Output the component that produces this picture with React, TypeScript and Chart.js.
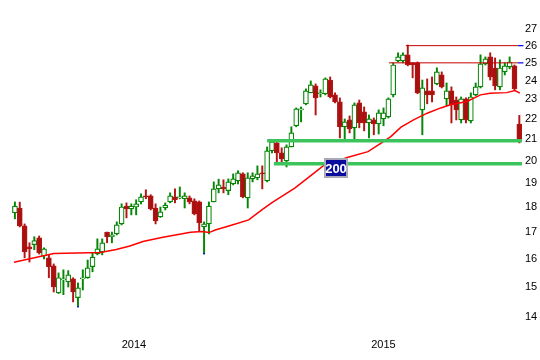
import React, { useEffect, useRef } from "react";
import { Chart, registerables } from "chart.js";

Chart.register(...registerables);

// Weekly candles (index 0 = first week shown)
const opens = [
  17.76, 17.96, 17.24, 16.44, 16.52, 16.78, 16.10, 16.03, 15.74, 14.80,
  15.25, 15.18, 15.28, 14.64, 15.28, 15.32, 15.71, 16.18, 16.25, 17.00,
  16.82, 16.93, 17.32, 18.04, 17.92, 18.00, 18.21, 18.46, 18.46, 17.96,
  17.60, 17.96, 18.21, 18.42, 18.38, 18.34, 18.38, 18.25, 18.21, 17.20,
  17.32, 18.21, 18.76, 18.84, 18.68, 18.97, 19.10, 19.41, 18.38, 19.19,
  19.24, 19.46, 19.10, 20.46, 20.83, 20.36, 19.99, 20.64, 21.66, 22.46,
  22.77, 23.35, 23.72, 23.30, 23.30, 24.04, 23.24, 22.87, 21.61, 21.95,
  21.56, 22.82, 22.36, 21.80, 21.95, 21.75, 22.00, 22.10, 23.24, 25.11,
  25.11, 25.46, 25.00, 25.00, 22.46, 23.45, 23.45, 23.83, 24.32, 23.03,
  23.45, 22.97, 21.95, 23.03, 21.90, 23.24, 23.67, 24.94, 25.34, 24.71,
  23.67, 24.49, 24.77, 24.83, 21.75,
];
const highs = [
  18.21, 18.20, 17.32, 16.59, 16.82, 16.85, 16.40, 16.14, 15.81, 15.49,
  15.60, 15.57, 15.32, 15.14, 15.60, 15.95, 16.21, 16.74, 16.74, 17.00,
  17.00, 17.40, 18.13, 18.17, 18.13, 18.30, 18.55, 18.72, 18.51, 18.13,
  18.00, 18.17, 18.59, 18.76, 18.84, 18.59, 18.46, 18.34, 18.25, 17.40,
  18.21, 19.06, 19.18, 19.15, 19.19, 19.41, 19.55, 19.46, 19.46, 19.46,
  19.77, 19.77, 20.64, 21.00, 20.97, 20.60, 20.74, 21.61, 22.56, 22.61,
  23.56, 23.99, 23.83, 23.51, 24.16, 24.21, 23.35, 23.08, 22.00, 22.15,
  22.82, 22.97, 22.61, 22.20, 22.05, 22.46, 22.56, 23.08, 25.00, 25.58,
  25.58, 26.04, 25.00, 25.05, 24.04, 24.10, 24.21, 24.72, 24.49, 23.88,
  23.67, 23.13, 23.13, 23.08, 23.35, 23.88, 25.46, 25.34, 25.58, 25.28,
  25.17, 25.00, 25.34, 24.88, 22.18,
];
const lows = [
  17.52, 17.20, 16.03, 15.88, 16.33, 16.17, 15.99, 15.32, 14.83, 14.78,
  14.74, 15.00, 14.50, 14.34, 14.90, 15.30, 15.53, 16.14, 16.14, 16.59,
  16.59, 16.89, 17.28, 17.56, 17.68, 17.68, 18.13, 18.34, 17.88, 17.32,
  17.58, 17.88, 18.17, 18.17, 18.34, 17.96, 18.13, 17.68, 17.04, 16.18,
  16.93, 18.21, 18.59, 18.59, 18.51, 18.93, 18.97, 18.38, 17.96, 19.06,
  19.15, 18.76, 19.06, 20.36, 19.95, 19.95, 19.72, 20.64, 21.61, 21.85,
  22.72, 23.35, 22.20, 23.13, 23.24, 23.08, 22.82, 21.07, 20.97, 21.31,
  20.97, 21.56, 21.41, 21.07, 21.22, 21.26, 21.66, 22.05, 23.13, 25.05,
  25.00, 24.83, 24.16, 23.30, 21.22, 22.77, 22.87, 23.78, 23.61, 22.67,
  21.80, 21.95, 21.80, 21.80, 21.80, 23.19, 23.61, 24.88, 24.04, 23.51,
  23.51, 24.32, 24.66, 23.51, 20.83,
];
const closes = [
  18.04, 17.24, 16.25, 16.36, 16.67, 16.21, 16.36, 15.71, 15.00, 15.32,
  15.28, 15.42, 14.83, 14.97, 15.32, 15.67, 16.06, 16.36, 16.59, 16.82,
  16.89, 17.28, 18.00, 17.92, 18.04, 18.13, 18.42, 18.42, 17.92, 17.44,
  17.80, 18.08, 18.46, 18.30, 18.42, 18.46, 18.21, 17.72, 17.36, 17.32,
  18.04, 18.76, 18.93, 18.76, 19.06, 19.19, 19.46, 18.42, 19.24, 19.32,
  19.41, 19.41, 20.46, 20.88, 20.36, 20.08, 20.64, 21.31, 22.51, 22.51,
  23.45, 23.78, 23.08, 23.35, 24.10, 23.13, 22.87, 21.61, 21.85, 21.51,
  22.72, 21.80, 21.80, 22.00, 21.75, 22.31, 22.31, 23.03, 24.88, 25.34,
  25.46, 24.88, 24.88, 23.35, 23.61, 23.24, 23.24, 24.49, 23.67, 23.45,
  22.72, 22.46, 23.03, 21.95, 23.13, 23.67, 24.94, 25.23, 24.21, 23.72,
  24.71, 24.83, 25.05, 23.56, 20.97,
];

// 200-day moving average, read at these week positions
const maWeeks = [-0.2, 8.0, 17.6, 20.9, 23.7, 26.4, 30.5, 33.1, 36.2, 38.7, 40.0, 41.3, 44.8, 48.2, 50.9, 53.0, 57.7, 61.2, 63.8, 68.7, 72.8, 75.5, 77.5, 79.6, 82.2, 85.0, 87.8, 89.8, 93.2, 96.0, 98.0, 101.4, 103.1, 104.1];
const maValues = [15.87, 16.19, 16.23, 16.34, 16.47, 16.64, 16.80, 16.89, 16.99, 17.02, 16.98, 17.08, 17.28, 17.48, 17.88, 18.18, 18.79, 19.37, 19.81, 20.16, 20.42, 20.82, 21.13, 21.59, 21.95, 22.29, 22.56, 22.72, 22.89, 23.24, 23.33, 23.36, 23.47, 23.33];

const yTicks = [14, 15, 16, 17, 18, 19, 20, 21, 22, 23, 24, 25, 26, 27];
const yearTickPos = [24.55, 75.97];
const yearTickLabels = ["2014", "2015"];

const supportLevels = [20.93, 19.86];
const supportStarts = [52.0, 53.4];
const resistLevels = [25.0, 26.0];
const resistStarts = [77.1, 80.6];
const lowMarkWeeks = [13, 39];

const maTag = "200";
const maTagWeek = 66.1;
const maTagPrice = 19.68;

const X_MIN = -2.25;
const X_MAX = 104.55;
const RESIST_END = 103.7;

const UP = "#068606";
const DOWN_FILL = "#a81010";
const DOWN_LINE = "#b41414";

const tagPlugin = {
  id: "maTag",
  afterDatasetsDraw(chart: any) {
    const { ctx, scales } = chart;
    const px = scales.x.getPixelForValue(maTagWeek);
    const py = scales.y.getPixelForValue(maTagPrice);
    const w = 24;
    const h = 20;
    const left = Math.round(px - w / 2);
    const top = Math.round(py - h / 2);
    ctx.save();
    ctx.fillStyle = "#0b0b9e";
    ctx.fillRect(left, top, w, h);
    ctx.strokeStyle = "#a9a9b9";
    ctx.lineWidth = 2;
    ctx.strokeRect(left + 1, top + 1, w - 2, h - 2);
    ctx.fillStyle = "#ffffff";
    ctx.font = 'bold 13px "Liberation Sans", Arial, sans-serif';
    ctx.textAlign = "center";
    ctx.textBaseline = "middle";
    ctx.fillText(maTag, left + w / 2, top + h / 2 + 1);
    ctx.restore();
  },
};

export default function App() {
  const ref = useRef<HTMLCanvasElement | null>(null);

  useEffect(() => {
    document.body.style.margin = "0";
    const canvas = ref.current;
    if (!canvas) return;

    const isUp = opens.map((o, i) => closes[i] >= o);

    const datasets: any[] = [];

    supportLevels.forEach((lvl, k) => {
      datasets.push({
        type: "line",
        data: [
          { x: supportStarts[k], y: lvl },
          { x: X_MAX, y: lvl },
        ],
        borderColor: "#3cc45c",
        borderWidth: 3.5,
        pointRadius: 0,
        order: 0,
      });
    });

    resistLevels.forEach((lvl, k) => {
      datasets.push({
        type: "line",
        data: [
          { x: resistStarts[k], y: lvl },
          { x: RESIST_END, y: lvl },
        ],
        borderColor: "#c40000",
        borderWidth: 1,
        pointRadius: 0,
        order: 0,
      });
      datasets.push({
        type: "line",
        data: [
          { x: RESIST_END, y: lvl },
          { x: X_MAX + 0.3, y: lvl },
        ],
        borderColor: "#0000ee",
        borderWidth: 1.2,
        pointRadius: 0,
        clip: false,
        order: 0,
      });
    });

    datasets.push({
      type: "line",
      data: maWeeks.map((w, i) => ({ x: w, y: maValues[i] })),
      borderColor: "#ff0000",
      borderWidth: 1.5,
      pointRadius: 0,
      tension: 0,
      order: 1,
    });

    datasets.push({
      type: "line",
      data: lowMarkWeeks.map((w) => ({ x: w, y: lows[w] })),
      showLine: false,
      pointStyle: "rect",
      pointRadius: 1,
      pointBackgroundColor: "#0000ff",
      pointBorderColor: "#0000ff",
      pointBorderWidth: 0,
      order: 1,
    });

    datasets.push({
      type: "bar",
      data: opens.map((o, i) => ({ x: i, y: [o, closes[i]] })),
      backgroundColor: isUp.map((u) => (u ? "#ffffff" : DOWN_FILL)),
      borderColor: isUp.map((u) => (u ? UP : DOWN_LINE)),
      borderWidth: 1.2,
      borderSkipped: false,
      barThickness: 5,
      grouped: false,
      order: 2,
    });

    datasets.push({
      type: "bar",
      data: lows.map((l, i) => ({ x: i, y: [l, highs[i]] })),
      backgroundColor: isUp.map((u) => (u ? UP : DOWN_LINE)),
      borderWidth: 0,
      barThickness: 1.3,
      grouped: false,
      order: 3,
    });

    const font = { family: '"Liberation Sans", Arial, sans-serif', size: 11 };

    const chart = new Chart(canvas, {
      type: "bar",
      data: { datasets },
      plugins: [tagPlugin],
      options: {
        animation: false,
        responsive: false,
        devicePixelRatio: 1,
        layout: { padding: { top: 10, left: 0, right: 0, bottom: 0 } },
        plugins: {
          legend: { display: false },
          tooltip: { enabled: false },
        },
        scales: {
          x: {
            type: "linear",
            position: "bottom",
            min: X_MIN,
            max: X_MAX,
            offset: false,
            grid: { display: false, drawTicks: false },
            border: { display: false },
            afterBuildTicks: (s: any) => {
              s.ticks = yearTickPos.map((v) => ({ value: v }));
            },
            afterFit: (s: any) => {
              s.height = 30;
            },
            ticks: {
              autoSkip: false,
              maxRotation: 0,
              padding: 8,
              color: "#000",
              font,
              callback: (_v: any, i: number) => yearTickLabels[i],
            },
          },
          y: {
            type: "logarithmic",
            position: "right",
            min: 13.6,
            max: 28.2,
            grid: { display: false, drawTicks: false },
            border: { display: false },
            afterBuildTicks: (s: any) => {
              s.ticks = yTicks.map((v) => ({ value: v }));
            },
            afterFit: (s: any) => {
              s.width = 18;
            },
            ticks: {
              padding: 3,
              color: "#000",
              font,
              callback: (v: any) => String(v),
            },
          },
        },
      },
    } as any);

    return () => chart.destroy();
  }, []);

  return (
    <div style={{ position: "fixed", left: 0, top: 0, width: 540, height: 360, background: "#fff" }}>
      <canvas ref={ref} width={540} height={360} style={{ display: "block" }} />
    </div>
  );
}
